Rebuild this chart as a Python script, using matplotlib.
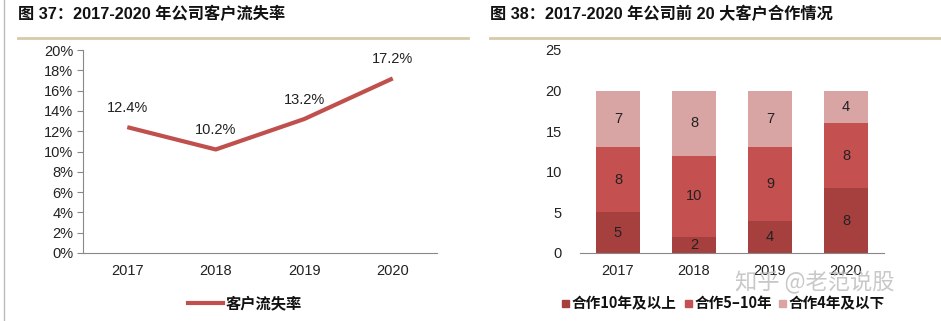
import matplotlib
matplotlib.use("Agg")
import matplotlib.pyplot as plt
from matplotlib.lines import Line2D
from matplotlib.patches import Rectangle

plt.rcParams['font.family'] = ['Liberation Sans', 'Noto Sans CJK SC', 'DejaVu Sans']

years = ['2017', '2018', '2019', '2020']
churn_rate = [0.124, 0.102, 0.132, 0.172]
churn_labels = ['12.4%', '10.2%', '13.2%', '17.2%']

coop_10plus = [5, 2, 4, 8]
coop_5to10 = [8, 10, 9, 8]
coop_4less = [7, 8, 7, 4]

left_title = '图 37：2017-2020 年公司客户流失率'
right_title = '图 38：2017-2020 年公司前 20 大客户合作情况'
line_legend = '客户流失率'
bar_legend = ['合作10年及以上', '合作5–10年', '合作4年及以下']
watermark = '知乎 @老范说股'

W, H = 941, 321
fig = plt.figure(figsize=(W / 100, H / 100), dpi=100)
fig.patch.set_facecolor('white')

def px_axes(x0, y0, x1, y1):
    return fig.add_axes([x0 / W, 1 - y1 / H, (x1 - x0) / W, (y1 - y0) / H])

line_color = '#C0504D'
c_dark = '#A5403F'
c_mid = '#C4504F'
c_light = '#D9A4A4'
cjk = ['Noto Sans CJK SC', 'DejaVu Sans']

# decorations
fig.add_artist(Line2D([4 / W, 4 / W], [0, 1], color='#BBBBBB', lw=1))
fig.add_artist(Line2D([18 / W, 468 / W], [1 - 38 / H, 1 - 38 / H], color='#D8C9A8', lw=2))
fig.add_artist(Line2D([490 / W, 941 / W], [1 - 38 / H, 1 - 38 / H], color='#D8C9A8', lw=2))
fig.text(18 / W, 1 - 14 / H, left_title, fontsize=11.7, fontweight='bold', va='center', ha='left',
         family=['Liberation Sans', 'Noto Sans CJK SC'], color='#111111')
fig.text(490 / W, 1 - 14 / H, right_title, fontsize=11.7, fontweight='bold', va='center', ha='left',
         family=['Liberation Sans', 'Noto Sans CJK SC'], color='#111111')

# left line chart
ax1 = px_axes(83, 50, 437, 253)
x = list(range(len(years)))
ax1.plot(x, churn_rate, color=line_color, lw=3, solid_capstyle='butt')
for xi, v, lab in zip(x, churn_rate, churn_labels):
    ax1.annotate(lab, (xi, v), xytext=(0, 9), textcoords='offset points', ha='center', va='bottom',
                 fontsize=10.5, color='#222222')
ax1.set_xlim(-0.5, len(years) - 0.5)
ax1.set_ylim(0, 0.20)
ax1.set_yticks([i / 100 for i in range(0, 21, 2)])
ax1.set_yticklabels([f'{i}%' for i in range(0, 21, 2)])
ax1.set_xticks(x)
ax1.set_xticklabels(years)
for s in ['top', 'right']:
    ax1.spines[s].set_visible(False)
ax1.spines['left'].set_color('#888888')
ax1.spines['bottom'].set_color('#888888')
ax1.tick_params(axis='y', length=4, color='#888888', labelsize=10.5, labelcolor='#222222', pad=3)
ax1.tick_params(axis='x', length=0, labelsize=10.5, labelcolor='#222222', pad=8)

fig.add_artist(Line2D([188 / W, 223 / W], [1 - 303 / H, 1 - 303 / H], color=line_color, lw=3))
fig.text(226 / W, 1 - 303 / H, line_legend, fontsize=11, fontweight='bold', va='center', ha='left',
         family=cjk, color='#111111')

# right stacked bar chart
ax2 = px_axes(580, 50, 884, 253)
bottoms2 = coop_10plus
bottoms3 = [a + b for a, b in zip(coop_10plus, coop_5to10)]
bw = 0.57
ax2.bar(x, coop_10plus, width=bw, color=c_dark)
ax2.bar(x, coop_5to10, width=bw, bottom=bottoms2, color=c_mid)
ax2.bar(x, coop_4less, width=bw, bottom=bottoms3, color=c_light)
for xi in x:
    for base, v in [(0, coop_10plus[xi]), (bottoms2[xi], coop_5to10[xi]), (bottoms3[xi], coop_4less[xi])]:
        ax2.text(xi, base + v / 2, str(v), ha='center', va='center', fontsize=10.5, color='#222222')
ax2.set_xlim(-0.5, len(years) - 0.5)
ax2.set_ylim(0, 25)
ax2.set_yticks(range(0, 26, 5))
ax2.set_xticks(x)
ax2.set_xticklabels(years)
for s in ['top', 'right', 'left']:
    ax2.spines[s].set_visible(False)
ax2.spines['bottom'].set_color('#888888')
ax2.tick_params(axis='y', length=0, labelsize=10.5, labelcolor='#222222', pad=13)
ax2.tick_params(axis='x', length=0, labelsize=10.5, labelcolor='#222222', pad=8)

# legend for bars
leg_x = [565, 688, 782]
for lx, col, lab in zip(leg_x, [c_dark, c_mid, c_light], bar_legend):
    fig.add_artist(Rectangle(((lx - 3.5) / W, 1 - 306.5 / H), 7 / W, 7 / H, color=col))
    fig.text((lx + 7) / W, 1 - 303 / H, lab, fontsize=10.5, fontweight='bold', va='center', ha='left',
             family=cjk, color='#111111')

fig.text(815 / W, 1 - 283 / H, watermark, fontsize=16, va='center', ha='center', family=cjk,
         color='#BBBBBB', alpha=0.8)

fig.savefig('out.png', dpi=100, facecolor='white')
